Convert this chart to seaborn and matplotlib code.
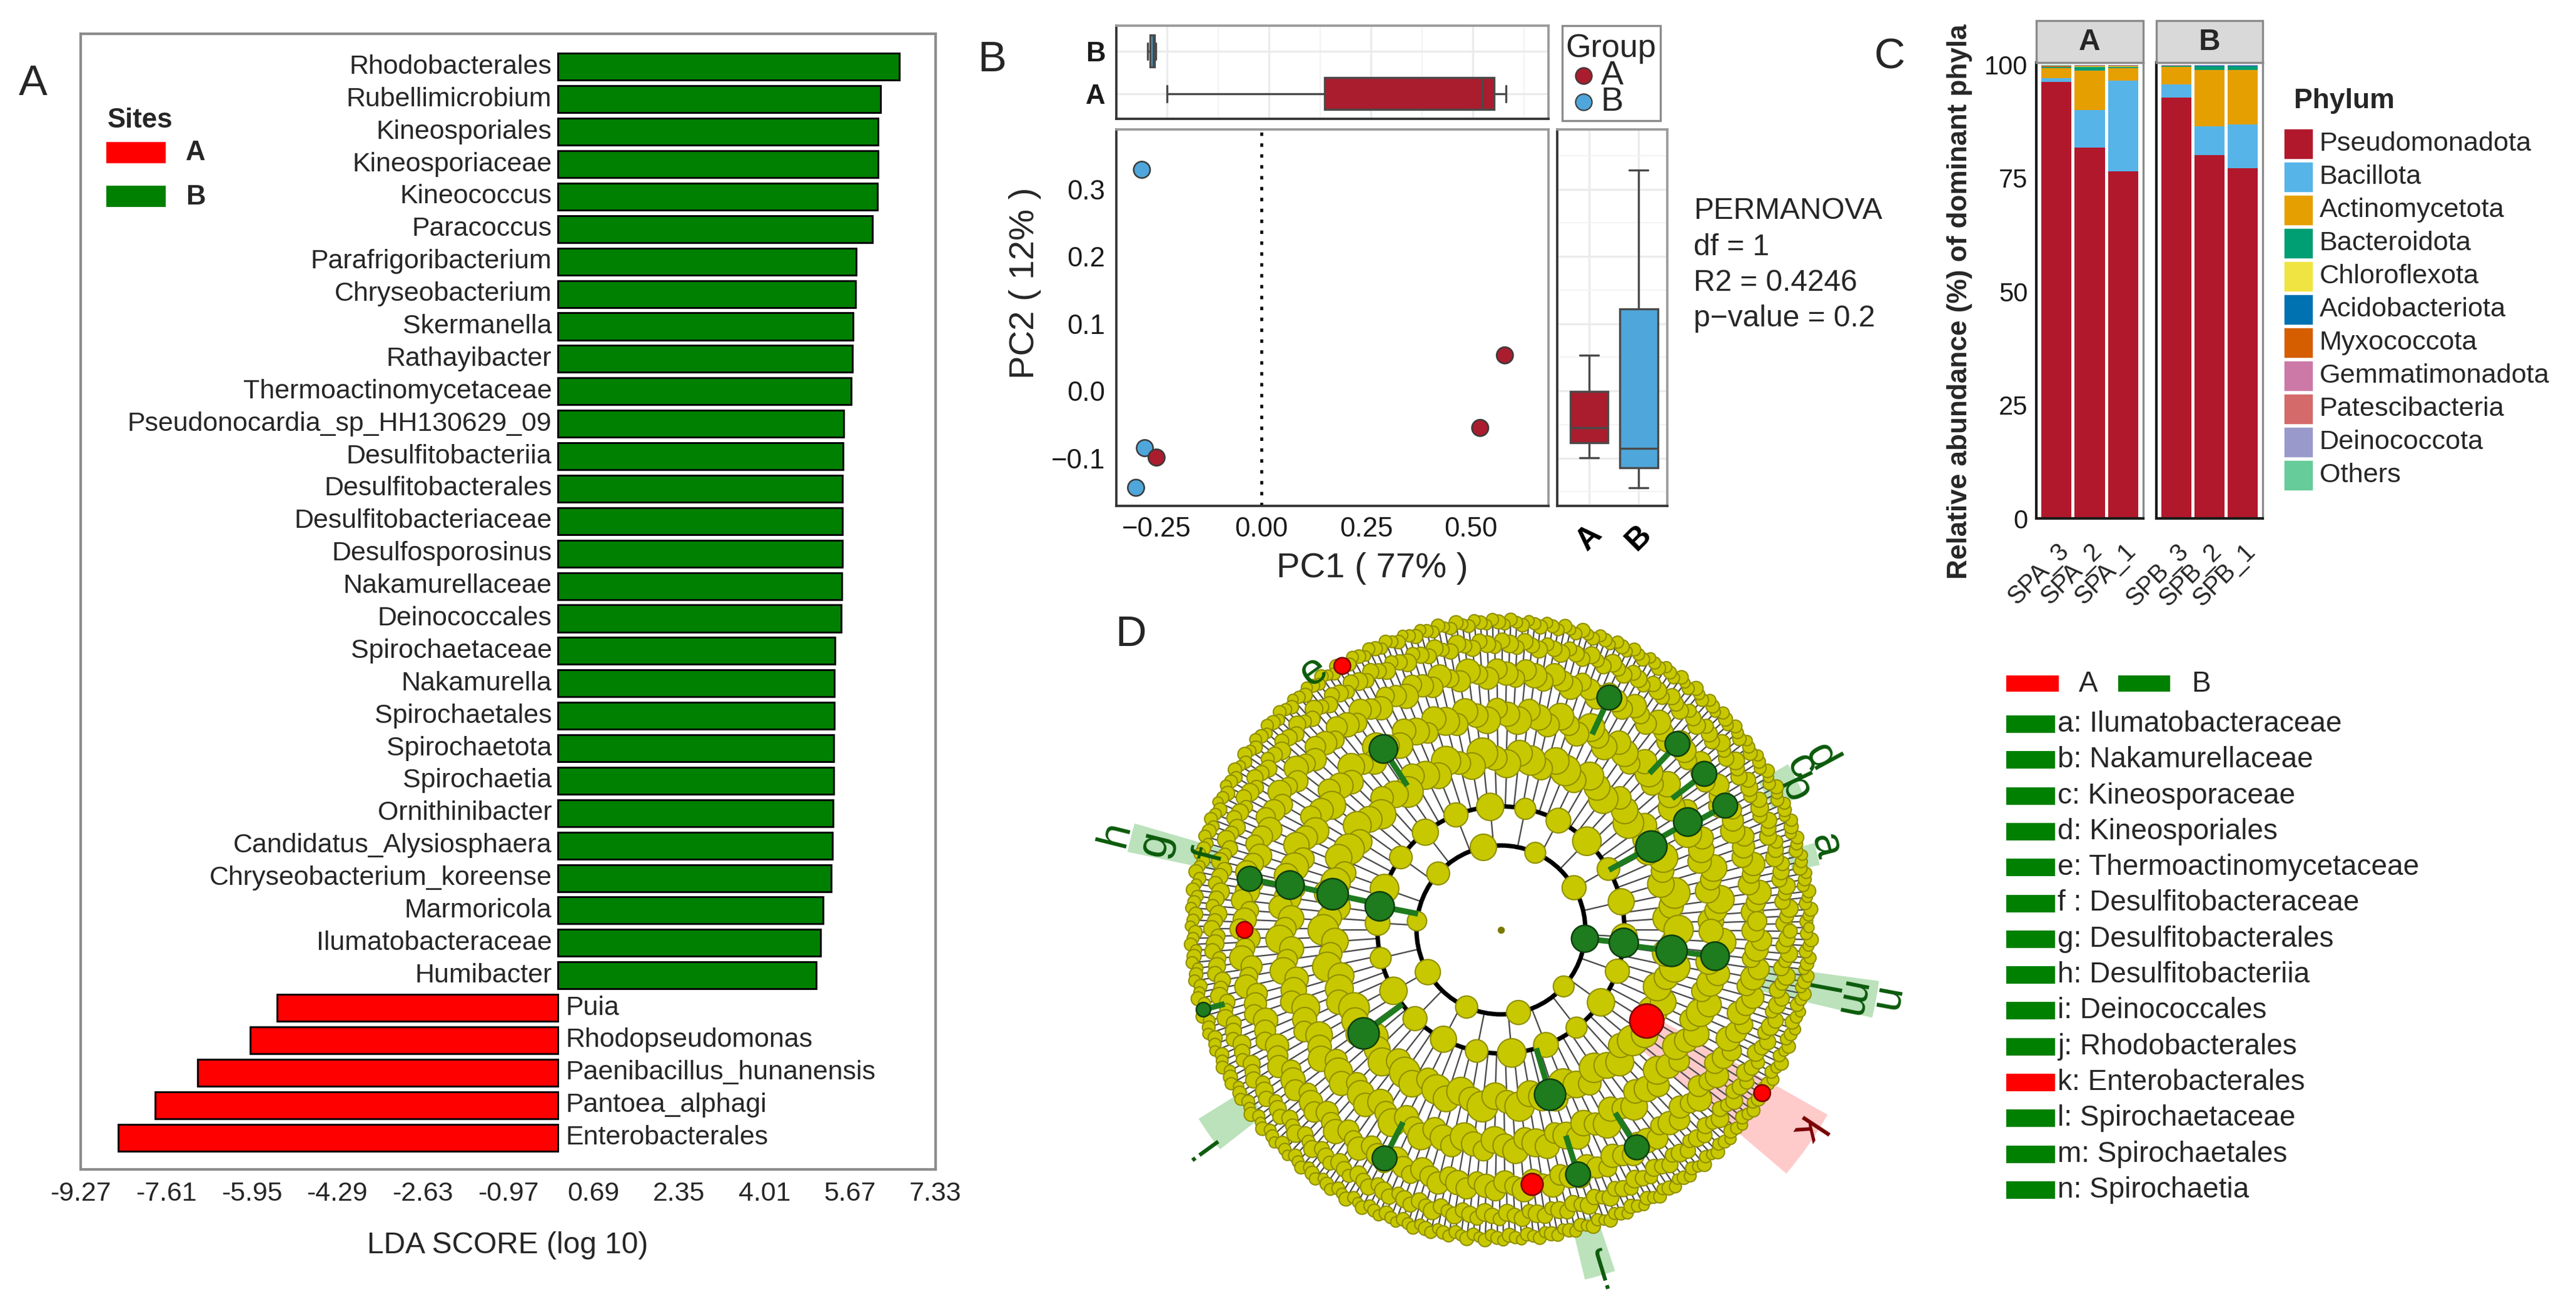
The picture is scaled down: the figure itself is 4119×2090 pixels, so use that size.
import numpy as np
import pandas as pd
import matplotlib
matplotlib.use("Agg")
import matplotlib.pyplot as plt
from matplotlib.patches import Rectangle, Wedge, Circle
from matplotlib.collections import LineCollection
from matplotlib.lines import Line2D
import seaborn as sns

sns.set_style("white")
plt.rcParams["font.family"] = ["Liberation Sans", "DejaVu Sans"]

W, H, DPI = 4119, 2090, 300

# ---------------- data: panel A (LEfSe LDA scores) ----------------
taxa_B = ["Rhodobacterales", "Rubellimicrobium", "Kineosporiales", "Kineosporiaceae",
          "Kineococcus", "Paracoccus", "Parafrigoribacterium", "Chryseobacterium",
          "Skermanella", "Rathayibacter", "Thermoactinomycetaceae",
          "Pseudonocardia_sp_HH130629_09", "Desulfitobacteriia", "Desulfitobacterales",
          "Desulfitobacteriaceae", "Desulfosporosinus", "Nakamurellaceae", "Deinococcales",
          "Spirochaetaceae", "Nakamurella", "Spirochaetales", "Spirochaetota",
          "Spirochaetia", "Ornithinibacter", "Candidatus_Alysiosphaera",
          "Chryseobacterium_koreense", "Marmoricola", "Ilumatobacteraceae", "Humibacter"]
score_B = [6.62, 6.26, 6.21, 6.21, 6.20, 6.10, 5.79, 5.77, 5.73, 5.71, 5.69,
           5.54, 5.53, 5.52, 5.52, 5.52, 5.51, 5.50, 5.38, 5.36, 5.36, 5.35,
           5.35, 5.34, 5.33, 5.30, 5.14, 5.09, 5.01]
taxa_A = ["Puia", "Rhodopseudomonas", "Paenibacillus_hunanensis", "Pantoea_alphagi",
          "Enterobacterales"]
score_A = [-5.46, -5.98, -7.00, -7.83, -8.54]
lda_ticks = [-9.27, -7.61, -5.95, -4.29, -2.63, -0.97, 0.69, 2.35, 4.01, 5.67, 7.33]
lda_tick_labels = ["-9.27", "-7.61", "-5.95", "-4.29", "-2.63", "-0.97",
                   "0.69", "2.35", "4.01", "5.67", "7.33"]
site_colors = {"A": "#FF0000", "B": "#008000"}

# ---------------- data: panel B (PCoA) ----------------
pc1 = [-0.285, -0.278, -0.299, -0.250, 0.581, 0.522]
pc2 = [0.329, -0.085, -0.144, -0.099, 0.053, -0.055]
pc_group = ["B", "B", "B", "A", "A", "A"]
group_colors = {"A": "#A91D2E", "B": "#4FA6DA"}
permanova_lines = ["PERMANOVA", "df = 1", "R2 = 0.4246", "p\u2212value = 0.2"]

# ---------------- data: panel C (phylum composition) ----------------
samples_A = ["SPA_3", "SPA_2", "SPA_1"]
samples_B = ["SPB_3", "SPB_2", "SPB_1"]
phyla = ["Pseudomonadota", "Bacillota", "Actinomycetota", "Bacteroidota", "Chloroflexota",
         "Acidobacteriota", "Myxococcota", "Gemmatimonadota", "Patescibacteria",
         "Deinococcota", "Others"]
phylum_colors = ["#B2182B", "#56B4E9", "#E69F00", "#009E73", "#F0E442", "#0072B2",
                 "#D55E00", "#CC79A7", "#D46A6A", "#9999CC", "#66CC99"]
# columns: SPA_3, SPA_2, SPA_1, SPB_3, SPB_2, SPB_1
abund = {
    "Pseudomonadota":  [96.2, 81.7, 76.5, 92.8, 80.1, 77.2],
    "Bacillota":       [0.8, 8.3, 20.0, 2.9, 6.3, 9.6],
    "Actinomycetota":  [2.2, 8.7, 2.7, 3.9, 12.5, 12.1],
    "Bacteroidota":    [0.3, 0.9, 0.4, 0.2, 0.8, 0.8],
    "Chloroflexota":   [0.05, 0.05, 0.05, 0.02, 0.03, 0.03],
    "Acidobacteriota": [0.05, 0.05, 0.05, 0.02, 0.03, 0.03],
    "Myxococcota":     [0.05, 0.05, 0.05, 0.02, 0.03, 0.03],
    "Gemmatimonadota": [0.05, 0.05, 0.05, 0.02, 0.03, 0.03],
    "Patescibacteria": [0.05, 0.05, 0.05, 0.02, 0.03, 0.03],
    "Deinococcota":    [0.05, 0.05, 0.05, 0.02, 0.03, 0.03],
    "Others":          [0.20, 0.10, 0.10, 0.08, 0.12, 0.12],
}

# ---------------- data: panel D (cladogram) ----------------
ring_radius = [0.27, 0.395, 0.55, 0.69, 0.82, 0.915, 0.985]
ring_count = [10, 22, 90, 130, 170, 240, 320]
ring_size = [85, 100, 115, 95, 72, 38, 24]
ring_offset = [12, 5, 2, 1, 3, 0.5, 1]
ring_spread = [0.0, 0.0, 0.018, 0.018, 0.014, 0.010, 0.008]

green_r = [0.395, 0.55, 0.69, 0.82, 0.985, 0.27, 0.395, 0.55, 0.69, 0.55, 0.69, 0.82,
           0.82, 0.82, 0.82, 0.55, 0.82, 0.82, 0.82, 0.55, 0.69]
green_ang = [169, 168, 168, 168.5, 195, -6, -6, -7, -7, 29, 30, 29,
             46.5, 37.5, 65, -73.4, -72.5, -58, -117, -143, 123]
red_r = [0.55, 0.985, 0.82, 0.985, 0.82]
red_ang = [-32, 121, -83, -32, 180]
red_size = [170, 40, 70, 40, 40]

wedge_angle = [166, -10.5, 13.5, 27, -35, -74, -145]
wedge_half = [2.2, 2.8, 2.0, 3.0, 5.5, 2.5, 3.0]
wedge_rin = [0.90, 0.80, 0.95, 0.95, 0.58, 0.96, 0.96]
wedge_rout = [1.22, 1.22, 1.04, 1.06, 1.20, 1.15, 1.14]
wedge_color = ["#8FCF8F", "#8FCF8F", "#8FCF8F", "#8FCF8F", "#FFA8A8", "#8FCF8F", "#8FCF8F"]

clade_letters = ["a", "b", "c", "d", "e", "f", "g", "h", "i", "j", "k", "l", "m", "n"]
clade_names = ["Ilumatobacteraceae", "Nakamurellaceae", "Kineosporaceae", "Kineosporiales",
               "Thermoactinomycetaceae", "Desulfitobacteraceae", "Desulfitobacterales",
               "Desulfitobacteriia", "Deinococcales", "Rhodobacterales", "Enterobacterales",
               "Spirochaetaceae", "Spirochaetales", "Spirochaetia"]
clade_group = ["B", "B", "B", "B", "B", "B", "B", "B", "B", "B", "A", "B", "B", "B"]
label_r = [1.07, 1.04, 1.09, 1.16, 1.02, 0.96, 1.14, 1.27, 1.17, 1.13, 1.16, 1.03, 1.14, 1.25]
label_ang = [14.4, 25.5, 28.5, 28.3, 125.9, 165.5, 166, 166, -144, -73, -33.4, -10.5, -11.4, -10.5]

# ---------------- helpers ----------------
fig = plt.figure(figsize=(W / DPI, H / DPI), dpi=DPI)


def px_axes(x0, y0, x1, y1):
    return fig.add_axes([x0 / W, 1 - y1 / H, (x1 - x0) / W, (y1 - y0) / H])


def px_text(x, y, s, **kw):
    kw.setdefault("va", "center")
    fig.text(x / W, 1 - y / H, s, **kw)


def px_rect(x0, y0, x1, y1, **kw):
    fig.add_artist(Rectangle((x0 / W, 1 - y1 / H), (x1 - x0) / W, (y1 - y0) / H,
                             transform=fig.transFigure, **kw))


# ================= Panel A =================
lda = pd.DataFrame({"taxon": taxa_B + taxa_A,
                    "score": score_B + score_A,
                    "site": ["B"] * len(taxa_B) + ["A"] * len(taxa_A)})
axA = px_axes(129, 54, 1496, 1870)
sns.barplot(data=lda, x="score", y="taxon", hue="site", order=lda["taxon"].tolist(),
            hue_order=["A", "B"], palette=site_colors, dodge=False, width=0.83,
            saturation=1, edgecolor="black", linewidth=0.7, errorbar=None, orient="y",
            legend=False, ax=axA)
axA.set_xlim(-9.27, 7.33)
axA.set_ylim(len(lda) - 0.02, -1.02)
axA.set_yticks([])
axA.set_ylabel("")
axA.set_xlabel("")
axA.set_xticks(lda_ticks)
axA.set_xticklabels(lda_tick_labels, fontsize=10.3)
axA.tick_params(axis="x", length=1.6, width=0.8, color="#808080", pad=3)
for sp in axA.spines.values():
    sp.set_color("#8C8C8C")
    sp.set_linewidth(1.0)
for i, (name, v) in enumerate(zip(lda["taxon"], lda["score"])):
    if v > 0:
        axA.text(-0.12, i, name, ha="right", va="center", fontsize=10.3)
    else:
        axA.text(0.15, i, name, ha="left", va="center", fontsize=10.3)
px_text(812, 1991, "LDA SCORE (log 10)", fontsize=11.5, ha="center")
px_text(172, 192, "Sites", fontsize=10.5, weight="bold")
px_rect(170, 227, 265, 261, facecolor=site_colors["A"], edgecolor="none")
px_text(297, 245, "A", fontsize=10.5, weight="bold")
px_rect(170, 297, 265, 331, facecolor=site_colors["B"], edgecolor="none")
px_text(297, 316, "B", fontsize=10.5, weight="bold")
px_text(53, 134, "A", fontsize=16.5, ha="center")

# ================= Panel B =================
pcoa = pd.DataFrame({"PC1": pc1, "PC2": pc2, "Group": pc_group})
xl_b = (-0.346, 0.685)
yl_b = (-0.171, 0.389)


def style_b(ax):
    for k, sp in ax.spines.items():
        sp.set_color("#333333" if k in ("left", "bottom") else "#9A9A9A")
        sp.set_linewidth(0.9)
    ax.tick_params(length=1.2, width=0.7, color="#333333", labelsize=10.5,
                   labelcolor="#1A1A1A", pad=3)
    ax.set_xlabel("")
    ax.set_ylabel("")


axS = px_axes(1785, 207, 2476, 809)
axS.axvline(0, color="black", lw=1.1, ls=(0, (1.2, 2.6)), zorder=1)
sns.scatterplot(data=pcoa, x="PC1", y="PC2", hue="Group", palette=group_colors, s=40,
                edgecolor="#3A3A3A", linewidth=0.6, legend=False, zorder=3, ax=axS)
axS.set_xlim(*xl_b)
axS.set_ylim(*yl_b)
axS.set_xticks([-0.25, 0.0, 0.25, 0.5])
axS.set_xticklabels(["\u22120.25", "0.00", "0.25", "0.50"])
axS.set_yticks([-0.1, 0.0, 0.1, 0.2, 0.3])
axS.set_yticklabels(["\u22120.1", "0.0", "0.1", "0.2", "0.3"])
style_b(axS)
px_text(2194, 909, "PC1 ( 77% )", fontsize=13.5, ha="center")
px_text(1639, 453, "PC2 ( 12% )", fontsize=13.5, ha="center", rotation=90)

axT = px_axes(1785, 41, 2476, 190)
sns.boxplot(data=pcoa, x="PC1", y="Group", hue="Group", order=["B", "A"],
            palette=group_colors, dodge=False, width=0.75, saturation=1,
            linecolor="#4A4A4A", linewidth=0.8, fliersize=0, orient="y",
            legend=False, ax=axT)
axT.set_xlim(*xl_b)
axT.set_ylim(1.59, -0.6)
axT.set_xticks([-0.25, 0.0, 0.25, 0.5])
axT.set_xticks([-0.375, -0.125, 0.125, 0.375, 0.625], minor=True)
axT.set_xticklabels([])
axT.grid(True, which="major", color="#EBEBEB", lw=0.8)
axT.grid(True, which="minor", axis="x", color="#F3F3F3", lw=0.5)
axT.set_axisbelow(True)
style_b(axT)
axT.tick_params(axis="y", labelsize=10.5)
for lab in axT.get_yticklabels():
    lab.set_fontweight("bold")
axT.tick_params(which="minor", length=0)

axR = px_axes(2490, 207, 2666, 809)
sns.boxplot(data=pcoa, x="Group", y="PC2", hue="Group", order=["A", "B"],
            palette=group_colors, dodge=False, width=0.77, saturation=1,
            linecolor="#4A4A4A", linewidth=0.8, fliersize=0, orient="x",
            legend=False, ax=axR)
axR.set_xlim(-0.645, 1.58)
axR.set_ylim(*yl_b)
axR.set_yticks([-0.1, 0.0, 0.1, 0.2, 0.3])
axR.set_yticks([-0.15, -0.05, 0.05, 0.15, 0.25, 0.35], minor=True)
axR.set_yticklabels([])
axR.grid(True, which="major", color="#EBEBEB", lw=0.8)
axR.grid(True, which="minor", axis="y", color="#F3F3F3", lw=0.5)
axR.set_axisbelow(True)
style_b(axR)
axR.tick_params(which="minor", length=0)
axR.tick_params(axis="x", labelsize=12, labelcolor="black", pad=4)
for lab in axR.get_xticklabels():
    lab.set_rotation(45)
    lab.set_fontweight("bold")

px_rect(2498, 41, 2655, 193, facecolor="white", edgecolor="#8A8A8A", lw=0.8)
px_text(2576, 77, "Group", fontsize=12.5, ha="center")
for gname, yy in zip(["A", "B"], [121, 163]):
    fig.add_artist(Line2D([2532 / W], [1 - yy / H], marker="o", ms=6.3, lw=0,
                          mfc=group_colors[gname], mec="#3A3A3A", mew=0.5,
                          transform=fig.transFigure))
    px_text(2560, yy, gname, fontsize=13)
for j, line in enumerate(permanova_lines):
    px_text(2708, 338 + 57.3 * j, line, fontsize=11.5)
px_text(1586, 96, "B", fontsize=16.5, ha="center")

# ================= Panel C =================
facet_boxes = [(3256, 3427, samples_A, "A", 0), (3448, 3618, samples_B, "B", 3)]
for x0, x1, names, title, start in facet_boxes:
    ax = px_axes(x0, 100, x1, 829)
    pos = np.arange(len(names))
    bottom = np.zeros(len(names))
    for ph, col in zip(phyla, phylum_colors):
        vals = np.array(abund[ph][start:start + len(names)])
        ax.bar(pos, vals, bottom=bottom, width=0.9, color=col, linewidth=0)
        bottom += vals
    ax.set_xlim(-0.6, len(names) - 0.4)
    ax.set_ylim(0, 100.5)
    ax.set_xticks(pos)
    ax.set_xticklabels(names, rotation=45, ha="right", va="top",
                       rotation_mode="anchor", fontsize=9.5)
    ax.tick_params(axis="x", length=3.8, width=0.8, color="#333333", pad=4.2)
    if start == 0:
        ax.set_yticks([0, 25, 50, 75, 100])
        ax.tick_params(axis="y", length=1.8, width=0.8, color="#333333",
                       labelsize=10, labelcolor="#1A1A1A", pad=1.5)
    else:
        ax.set_yticks([])
    for k, sp in ax.spines.items():
        sp.set_color("#1A1A1A" if k in ("left", "bottom") else "#8A8A8A")
        sp.set_linewidth(1.0 if k in ("left", "bottom") else 0.8)
    px_rect(x0, 33, x1, 100, facecolor="#D9D9D9", edgecolor="#8A8A8A", lw=0.8)
    px_text((x0 + x1) / 2, 67, title, fontsize=11.5, weight="bold", ha="center")

px_text(3133, 482, "Relative abundance (%) of dominant phyla", fontsize=10.6,
        weight="bold", rotation=90, ha="center")
px_text(3668, 161, "Phylum", fontsize=10.7, weight="bold")
for i, (ph, col) in enumerate(zip(phyla, phylum_colors)):
    cy = 230 + 53 * i
    px_rect(3651, cy - 25, 3699, cy + 25, facecolor=col, edgecolor="white", lw=0.6)
    px_text(3709, cy, ph, fontsize=10.4)
px_text(3021, 91, "C", fontsize=16.5, ha="center")

# ================= Panel D =================
axD = px_axes(1700, 950, 3100, 2090)
axD.set_xlim(-1.4, 1.4)
axD.set_ylim(-1.206, 1.074)
axD.axis("off")

for a, hw, r0, r1, c in zip(wedge_angle, wedge_half, wedge_rin, wedge_rout, wedge_color):
    axD.add_patch(Wedge((0, 0), r1, a - hw, a + hw, width=r1 - r0, facecolor=c,
                        edgecolor="none", alpha=0.6, zorder=0))

segs = []
levels = []
size_cycle = np.array([1.0, 0.75, 1.2, 0.9, 0.65, 1.1, 0.85])
for L, (r, n, s, off, spr) in enumerate(zip(ring_radius, ring_count, ring_size,
                                            ring_offset, ring_spread)):
    idx = np.arange(n)
    ang = np.deg2rad(off + 360.0 * (idx + 0.5) / n)
    rr = r + spr * ((idx % 3) - 1)
    xs, ys = rr * np.cos(ang), rr * np.sin(ang)
    if L > 0:
        r_in = ring_radius[L - 1]
        for a, rv in zip(ang, rr):
            segs.append([(r_in * np.cos(a), r_in * np.sin(a)), (rv * np.cos(a), rv * np.sin(a))])
    sizes = s * size_cycle[idx % len(size_cycle)]
    levels.append((xs, ys, sizes))

axD.add_collection(LineCollection(segs, colors="#4A4A4A", linewidths=0.55, zorder=1))
for r in ring_radius[:2]:
    axD.add_patch(Circle((0, 0), r, fill=False, edgecolor="black", lw=1.7, zorder=2))
for L, (xs, ys, s) in enumerate(levels):
    axD.scatter(xs, ys, s=s, c="#C8C800", edgecolors="#8F8F00", linewidths=0.5,
                zorder=3 + 0.1 * L)
axD.scatter([0], [0], s=3, c="#7A7A00", zorder=4)


def ring_index(r):
    return int(np.argmin(np.abs(np.array(ring_radius) - r)))


gsegs = []
for r, a in zip(green_r, green_ang):
    k = ring_index(r)
    if k > 0:
        t = np.deg2rad(a)
        r_in = ring_radius[k - 1]
        gsegs.append([(r_in * np.cos(t), r_in * np.sin(t)), (r * np.cos(t), r * np.sin(t))])
axD.add_collection(LineCollection(gsegs, colors="#1E7B1E", linewidths=2.2, zorder=5))
gx = [r * np.cos(np.deg2rad(a)) for r, a in zip(green_r, green_ang)]
gy = [r * np.sin(np.deg2rad(a)) for r, a in zip(green_r, green_ang)]
gs = [ring_size[ring_index(r)] * 1.25 for r in green_r]
axD.scatter(gx, gy, s=gs, c="#1E7B1E", edgecolors="#0E3F0E", linewidths=0.6, zorder=6)
rx = [r * np.cos(np.deg2rad(a)) for r, a in zip(red_r, red_ang)]
ry = [r * np.sin(np.deg2rad(a)) for r, a in zip(red_r, red_ang)]
axD.scatter(rx, ry, s=red_size, c="#FF0000", edgecolors="#7A0000", linewidths=0.6, zorder=6)

for let, grp, r, a in zip(clade_letters, clade_group, label_r, label_ang):
    t = np.deg2rad(a)
    axD.text(r * np.cos(t), r * np.sin(t), let, rotation=a - 90, ha="center", va="center",
             fontsize=17, color="#7A0000" if grp == "A" else "#0B5A0B", zorder=7,
             rotation_mode="anchor")

px_text(1808, 1015, "D", fontsize=16.5, ha="center")

# cladogram legend
px_rect(3208, 1080, 3292, 1106, facecolor=site_colors["A"], edgecolor="none")
px_text(3324, 1094, "A", fontsize=11)
px_rect(3387, 1080, 3470, 1106, facecolor=site_colors["B"], edgecolor="none")
px_text(3504, 1094, "B", fontsize=11)
for i, (let, name, grp) in enumerate(zip(clade_letters, clade_names, clade_group)):
    cy = 1158 + 57.3 * i
    px_rect(3208, cy - 14, 3286, cy + 14, facecolor=site_colors[grp], edgecolor="none")
    sep = " : " if let == "f" else ": "
    px_text(3290, cy, let + sep + name, fontsize=11)

fig.savefig("out.png", dpi=DPI, facecolor="white")
